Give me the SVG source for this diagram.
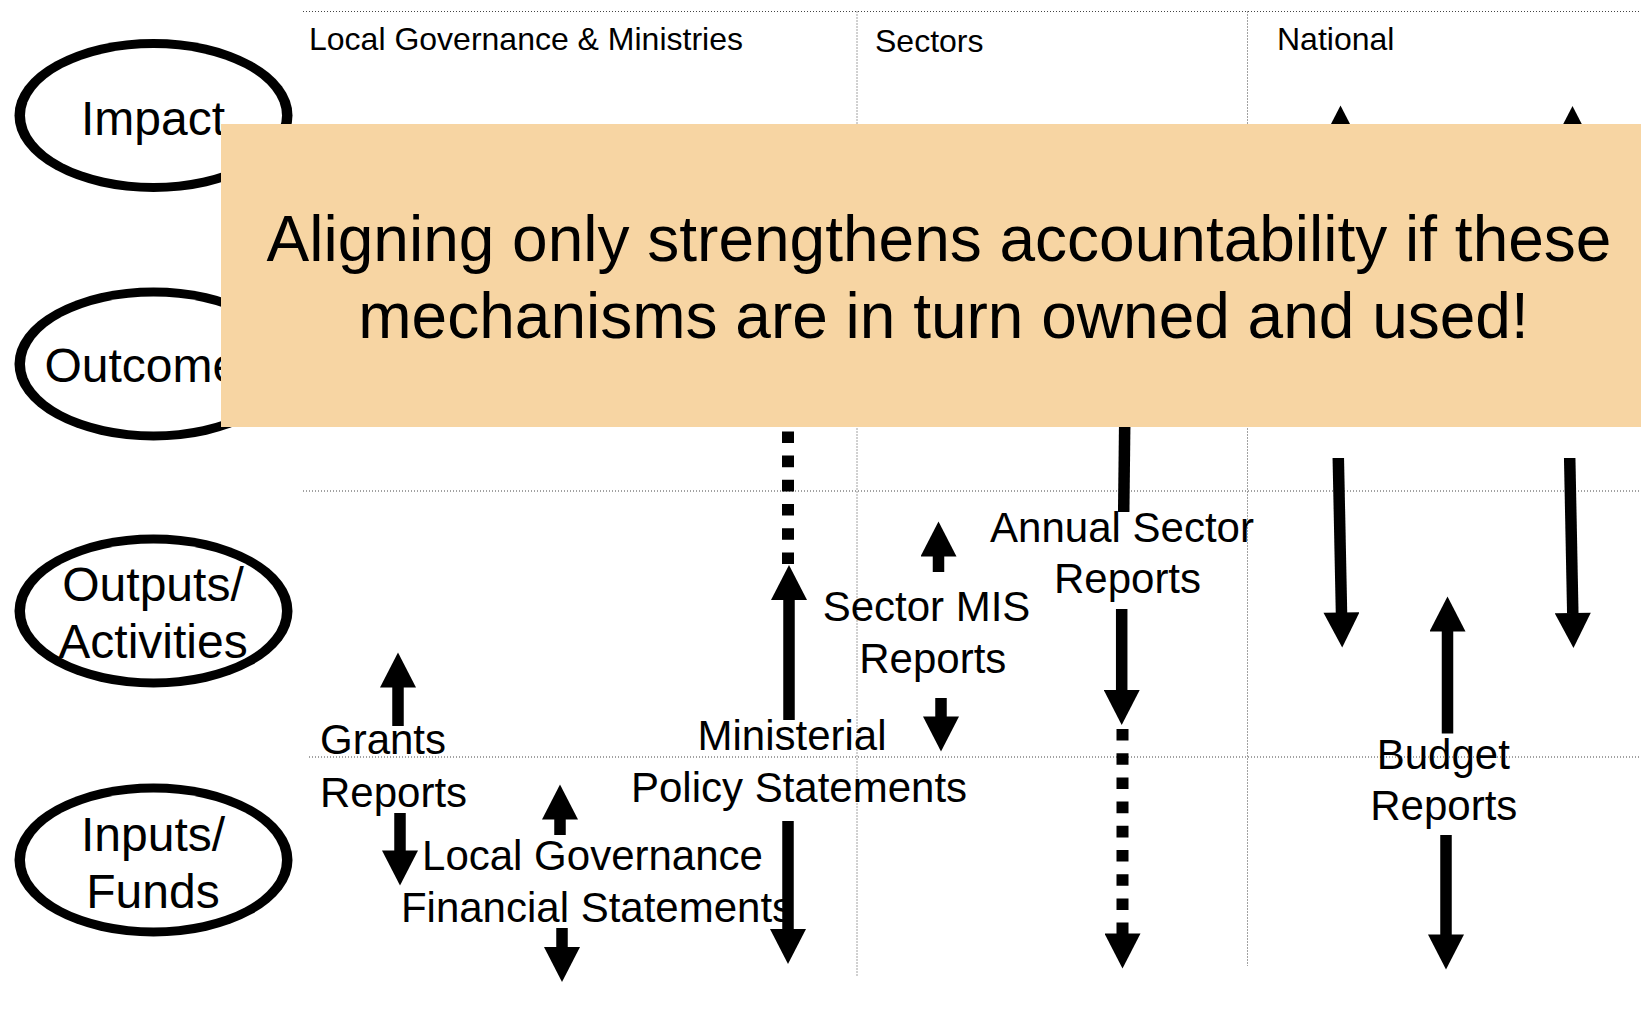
<svg xmlns="http://www.w3.org/2000/svg" width="1641" height="1026" viewBox="0 0 1641 1026">
<style>
.grid{stroke:#444;stroke-width:1;stroke-dasharray:1 2;fill:none}
.ring{fill:#000;stroke:none}
.hole{fill:#fff;stroke:none}
.t{font-family:"Liberation Sans",Arial,sans-serif;fill:#000}
.hdr{font-size:32px}
.big{font-size:48px;text-anchor:middle}
.lbl{font-size:42px;text-anchor:middle}
.note{font-size:64px;text-anchor:middle}
.arr{stroke:#000;stroke-width:11.5;fill:none;marker-end:url(#ah)}
.dsh{stroke:#000;stroke-width:12;fill:none;stroke-dasharray:11.6 12.6}
</style>
<defs>
<marker id="ah" markerUnits="userSpaceOnUse" markerWidth="36" markerHeight="36" viewBox="0 0 35 36" refX="0.5" refY="18" orient="auto">
<path d="M0,0 L35,18 L0,36 z" fill="#000"/>
</marker>
</defs>
<rect width="1641" height="1026" fill="#fff"/>
<g id="grid">
<line class="grid" x1="303" y1="11.5" x2="1641" y2="11.5"/>
<line class="grid" x1="303" y1="491" x2="1641" y2="491"/>
<line class="grid" x1="309" y1="757" x2="1641" y2="757"/>
<line class="grid" x1="857" y1="11.5" x2="857" y2="976"/>
<line class="grid" x1="1247.5" y1="11.5" x2="1247.5" y2="966"/>
</g>
<g id="headers">
<text class="t hdr" x="309" y="50">Local Governance &amp; Ministries</text>
<text class="t hdr" x="875" y="52">Sectors</text>
<text class="t hdr" x="1277" y="50">National</text>
</g>
<g id="node-impact">
<ellipse class="ring" cx="153.5" cy="115.5" rx="139" ry="76.5"/>
<ellipse class="hole" cx="153.5" cy="115.5" rx="128.5" ry="67.5"/>
<text class="t big" x="153" y="135">Impact</text>
</g>
<g id="node-outcomes">
<ellipse class="ring" cx="153.5" cy="364" rx="139" ry="76.5"/>
<ellipse class="hole" cx="153.5" cy="364" rx="128.5" ry="67.5"/>
<text class="t" font-size="48" x="44.5" y="382">Outcome</text>
</g>
<g id="node-outputs">
<ellipse class="ring" cx="153.5" cy="611" rx="139" ry="76.5"/>
<ellipse class="hole" cx="153.5" cy="611" rx="128.5" ry="67.5"/>
<text class="t big" x="153" y="600.5">Outputs/</text>
<text class="t big" x="153" y="658">Activities</text>
</g>
<g id="node-inputs">
<ellipse class="ring" cx="153.5" cy="860" rx="139" ry="76.5"/>
<ellipse class="hole" cx="153.5" cy="860" rx="128.5" ry="67.5"/>
<text class="t big" x="153" y="850.5">Inputs/</text>
<text class="t big" x="153" y="907.5">Funds</text>
</g>
<g id="connectors">
<line class="arr" x1="398" y1="726" x2="398" y2="687"/>
<line class="arr" x1="400" y1="813" x2="400" y2="851"/>
<line class="arr" x1="560" y1="835" x2="560" y2="819"/>
<line class="arr" x1="562" y1="928" x2="562" y2="947.5"/>
<line class="arr" x1="789" y1="720" x2="789" y2="599.5"/>
<path class="dsh" d="M788,564 L788,420"/>
<line class="arr" x1="788" y1="821" x2="788" y2="929.5"/>
<line class="arr" x1="938.5" y1="572" x2="938.5" y2="556"/>
<line class="arr" x1="941" y1="698" x2="941" y2="717"/>
<line x1="1125" y1="400" x2="1123.7" y2="512" stroke="#000" stroke-width="11.5"/>
<line class="arr" x1="1121.7" y1="609" x2="1121.7" y2="690.5"/>
<path class="dsh" d="M1122.5,729 L1122.5,934" style="marker-end:url(#ah)"/>
<line class="arr" x1="1340.5" y1="300" x2="1340.5" y2="140"/>
<line class="arr" x1="1572.5" y1="300" x2="1572.5" y2="140.5"/>
<line class="arr" x1="1338.3" y1="458" x2="1341.5" y2="613"/>
<line class="arr" x1="1569.7" y1="458" x2="1572.8" y2="613.5"/>
<line class="arr" x1="1447.5" y1="733.5" x2="1447.5" y2="631"/>
<line class="arr" x1="1446" y1="835" x2="1446" y2="935"/>
</g>
<g id="labels">
<text class="t" font-size="42" x="320" y="754">Grants</text>
<text class="t" font-size="42" x="320" y="806.5">Reports</text>
<text class="t lbl" x="592.5" y="870">Local Governance</text>
<text class="t lbl" x="597" y="921.5">Financial Statements</text>
<text class="t lbl" x="792" y="750">Ministerial</text>
<text class="t lbl" x="799" y="801.5">Policy Statements</text>
<text class="t lbl" x="926.5" y="621">Sector MIS</text>
<text class="t lbl" x="932.8" y="672.5">Reports</text>
<text class="t lbl" x="1122" y="541.5">Annual Sector</text>
<text class="t lbl" x="1127.5" y="592.5">Reports</text>
<text class="t lbl" x="1443.3" y="768.5">Budget</text>
<text class="t lbl" x="1443.8" y="819.5">Reports</text>
</g>
<g id="callout">
<rect x="221" y="124" width="1420" height="303" fill="#F7D5A3"/>
<text class="t note" x="939" y="261">Aligning only strengthens accountability if these</text>
<text class="t note" x="943.5" y="338">mechanisms are in turn owned and used!</text>
</g>
</svg>
